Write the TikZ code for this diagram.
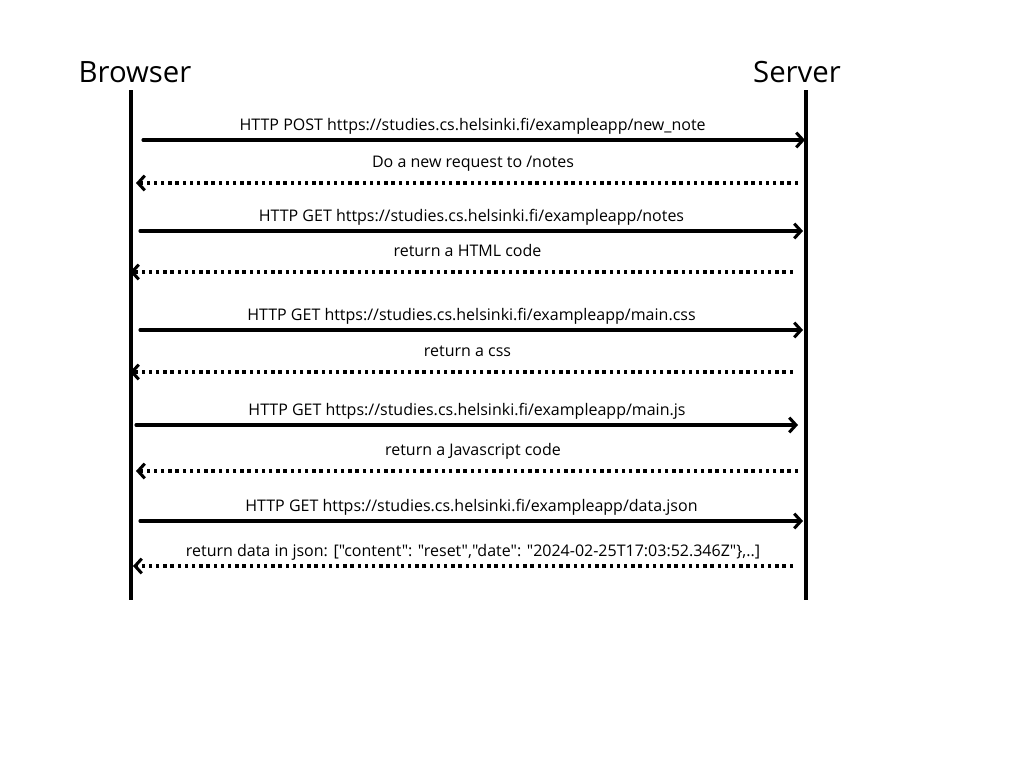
\documentclass[tikz,border=0pt]{standalone}
\usepackage{fontspec}
\newfontfamily\opensans{Open Sans}
\usetikzlibrary{arrows.meta}
\tikzset{
  lifeline/.style={line width=3pt},
  actor/.style={font=\opensans\fontsize{22}{26}\selectfont},
  msg/.style={line width=2.3pt, line cap=round, -{Straight Barb[length=5pt,width=11pt,line width=2.3pt]}},
  reply/.style={msg, line cap=butt, dash pattern=on 2.5pt off 2.9pt},
  lbl/.style={font=\opensans\fontsize{12}{14}\selectfont, above=0.5pt, text height=0.8em, text depth=0.25em},
  rlbl/.style={lbl, above=4pt, xshift=4.5pt}
}
\begin{document}
\begin{tikzpicture}[x=0.75pt,y=-0.75pt]
  \useasboundingbox (0,0) rectangle (1024,768);
  \node[actor] (browser) at (135,72) {Browser};
  \node[actor] (server) at (797,72) {Server};
  \coordinate (btop) at (130.5,90);
  \coordinate (bbot) at (130.5,600);
  \coordinate (stop) at (805.5,90);
  \coordinate (sbot) at (805.5,600);
  \draw[lifeline] (btop) -- (bbot);
  \draw[lifeline] (stop) -- (sbot);
  % new note
  \coordinate (b1) at (143,140); \coordinate (s1) at (805,140);
  \draw[msg] (b1) -- (s1) node[lbl,midway,xshift=-1pt]{HTTP POST https://studies.cs.helsinki.fi/exampleapp/new\_note};
  \coordinate (s2) at (798,183); \coordinate (b2) at (136,183);
  \draw[reply] (s2) -- (b2) node[rlbl,midway]{Do a new request to /notes};
  % notes page
  \coordinate (b3) at (140,231); \coordinate (s3) at (803,231);
  \draw[msg] (b3) -- (s3) node[lbl,midway]{HTTP GET https://studies.cs.helsinki.fi/exampleapp/notes};
  \coordinate (s4) at (793,272); \coordinate (b4) at (130,272);
  \draw[reply] (s4) -- (b4) node[rlbl,midway]{return a HTML code};
  % css
  \coordinate (b5) at (140,330); \coordinate (s5) at (803,330);
  \draw[msg] (b5) -- (s5) node[lbl,midway]{HTTP GET https://studies.cs.helsinki.fi/exampleapp/main.css};
  \coordinate (s6) at (793,372); \coordinate (b6) at (130,372);
  \draw[reply] (s6) -- (b6) node[rlbl,midway]{return a css};
  % js
  \coordinate (b7) at (136,425); \coordinate (s7) at (798,425);
  \draw[msg] (b7) -- (s7) node[lbl,midway]{HTTP GET https://studies.cs.helsinki.fi/exampleapp/main.js};
  \coordinate (s8) at (798,471); \coordinate (b8) at (136,471);
  \draw[reply] (s8) -- (b8) node[rlbl,midway]{return a Javascript code};
  % json
  \coordinate (b9) at (140,521); \coordinate (s9) at (803,521);
  \draw[msg] (b9) -- (s9) node[lbl,midway]{HTTP GET https://studies.cs.helsinki.fi/exampleapp/data.json};
  \coordinate (s10) at (793,566); \coordinate (b10) at (133,566);
  \draw[reply] (s10) -- (b10) node[lbl,midway,xshift=7.5pt]{return data in json: ["content": "reset","date": "2024-02-25T17:03:52.346Z"\},..]};
\end{tikzpicture}
\end{document}
